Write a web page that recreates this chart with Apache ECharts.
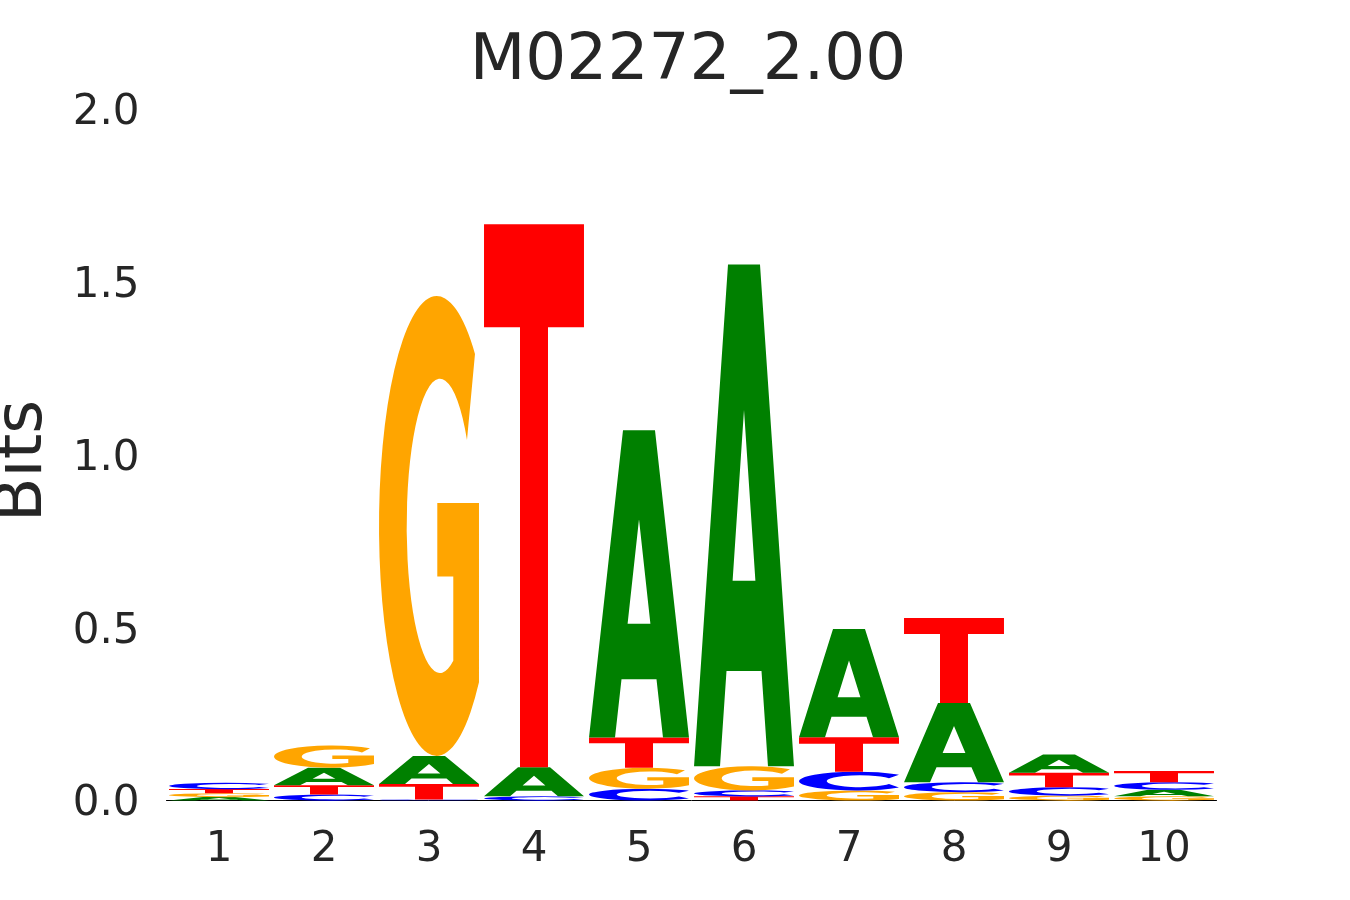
<!DOCTYPE html>
<html>
<head>
<meta charset="utf-8">
<script src="https://cdn.jsdelivr.net/npm/echarts@6/dist/echarts.min.js"></script>
<style>html,body{margin:0;padding:0;background:#fff}#chart{width:1350px;height:900px}</style>
</head>
<body>
<div id="chart"></div>
<script>
// ---- data (bits per letter at each position) ----
const titleText = 'M02272_2.00';
const positions = ['1', '2', '3', '4', '5', '6', '7', '8', '9', '10'];
const letters = ['A', 'C', 'G', 'T'];
const bitsA = [0.010, 0.051, 0.081, 0.084, 0.889, 1.451, 0.313, 0.229, 0.053, 0.019];
const bitsC = [0.018, 0.017, 0.003, 0.012, 0.034, 0.017, 0.054, 0.029, 0.024, 0.022];
const bitsG = [0.011, 0.064, 1.330, 0.000, 0.061, 0.070, 0.029, 0.024, 0.014, 0.012];
const bitsT = [0.012, 0.027, 0.045, 1.571, 0.087, 0.012, 0.100, 0.246, 0.042, 0.032];
const yTicks = [0, 0.5, 1.0, 1.5, 2.0];

// ---- glyph outlines in a 0..100 box ----
const GLYPH = {
  A: 'M0 100 L34 0 L66 0 L100 100 L74 100 L67.5 81 L32.5 81 L26 100 Z M50 29 L38.6 63 L61.4 63 Z',
  C: 'M100 16 L90 34.3 A33.3 32 0 1 0 90 65.7 L100 84 A57.7 50 0 1 1 100 16 Z',
  G: 'M96 12.6 L88 31.3 A33.3 32 0 1 0 74.3 79.3 L74.3 61 L58.3 61 L58.3 45 L100 45 L100 84 A57.7 50 0 1 1 96 12.6 Z',
  T: 'M0 0 L100 0 L100 19 L64 19 L64 100 L36 100 L36 19 L0 19 Z'
};
const COLOR = { A: '#008000', C: '#0000ff', G: '#ffa500', T: '#ff0000' };

const table = { A: bitsA, C: bitsC, G: bitsG, T: bitsT };
const items = [];
positions.forEach((p, i) => {
  const col = letters.map((l, k) => ({ k, v: table[l][i] })).filter(d => d.v > 0);
  col.sort((a, b) => a.v - b.v);
  let base = 0;
  col.forEach(d => {
    items.push([i, base, base + d.v, d.k]);
    base += d.v;
  });
});

const FONT = 'DejaVu Sans';
const TXT = '#262626';
const chart = echarts.init(document.getElementById('chart'));
chart.setOption({
  backgroundColor: '#ffffff',
  animation: false,
  title: {
    text: titleText, left: 683, top: 25, textAlign: 'center',
    textStyle: { fontFamily: FONT, fontSize: 64.5, fontWeight: 'normal', color: TXT }
  },
  grid: { left: 166.5, right: 133.5, top: 109, bottom: 99.5 },
  xAxis: {
    type: 'category', data: positions, boundaryGap: true,
    axisLine: { show: true, lineStyle: { color: '#000', width: 1 } },
    axisTick: { show: false },
    axisLabel: { fontFamily: FONT, fontSize: 42, color: TXT, margin: 29 },
    splitLine: { show: false }
  },
  yAxis: {
    type: 'value', min: 0, max: 2, interval: 0.5,
    axisLine: { show: false }, axisTick: { show: false }, splitLine: { show: false },
    axisLabel: { fontFamily: FONT, fontSize: 42, color: TXT, margin: 27,
      formatter: v => yTicks.indexOf(v) >= 0 ? '{a|' + v.toFixed(1) + '}' : '',
      rich: { a: { fontFamily: FONT, fontSize: 42, color: TXT, padding: [8, 0, 0, 0] } } }
  },
  graphic: [{
    type: 'text', x: 24, y: 461, rotation: Math.PI / 2,
    style: { text: 'Bits', fontFamily: FONT, fontSize: 65, fill: TXT, align: 'center', verticalAlign: 'middle' }
  }],
  series: [{
    type: 'custom',
    data: items,
    clip: false,
    renderItem: function (params, api) {
      const x = api.value(0), y0 = api.value(1), y1 = api.value(2), k = api.value(3);
      const pb = api.coord([x, y0]);
      const pt = api.coord([x, y1]);
      const w = api.size([1, 0])[0] * 0.952;
      const h = pb[1] - pt[1];
      const l = letters[k];
      return {
        type: 'path',
        x: pb[0] - w / 2, y: pt[1],
        scaleX: w / 100, scaleY: h / 100,
        shape: { pathData: GLYPH[l] },
        style: { fill: COLOR[l], stroke: null }
      };
    }
  }]
});
</script>
</body>
</html>
